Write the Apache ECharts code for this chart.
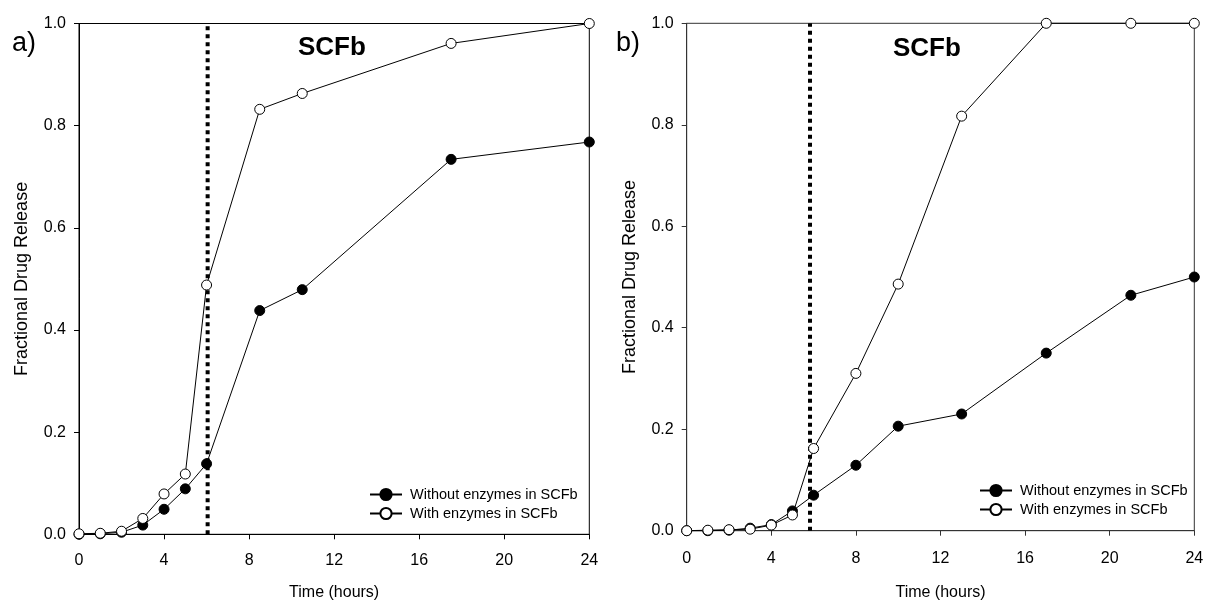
<!DOCTYPE html>
<html><head><meta charset="utf-8">
<script src="https://cdn.jsdelivr.net/npm/echarts@6/dist/echarts.min.js"></script>
<style>html,body{margin:0;padding:0;background:#fff}#c{width:1205px;height:602px}</style>
</head><body><div id="c"></div>
<script>
const xTicks = [0, 4, 8, 12, 16, 20, 24];
const yTicks = [0.0, 0.2, 0.4, 0.6, 0.8, 1.0];
const seriesNames = ['Without enzymes in SCFb', 'With enzymes in SCFb'];
const panelLabels = ['a)', 'b)'];
const panelTitle = 'SCFb';

const timeA = [0, 1, 2, 3, 4, 5, 6, 8.5, 10.5, 17.5, 24];
const withoutA = [0.000, 0.001, 0.004, 0.018, 0.049, 0.089, 0.138, 0.438, 0.479, 0.734, 0.768];
const withA = [0.001, 0.002, 0.006, 0.031, 0.079, 0.118, 0.488, 0.832, 0.863, 0.961, 1.000];
const switchA = 6.05;

const timeB = [0, 1, 2, 3, 4, 5, 6, 8, 10, 13, 17, 21, 24];
const withoutB = [0.000, 0.000, 0.001, 0.005, 0.012, 0.039, 0.070, 0.129, 0.206, 0.230, 0.350, 0.464, 0.500];
const withB = [0.000, 0.001, 0.002, 0.003, 0.011, 0.031, 0.162, 0.310, 0.486, 0.817, 1.000, 1.000, 1.000];
const switchB = 5.83;

const FONT = 'Liberation Sans, Arial, sans-serif';
const zip = (xs, ys) => xs.map((x, i) => [x, ys[i]]);

const grids = [
  {left: 79, top: 23.5, width: 510.3, height: 510.8, color: '#000', nameGap: 50, labelMargin: 18},
  {left: 686.7, top: 23.3, width: 507.6, height: 507.4, color: '#333', nameGap: 54, labelMargin: 20}
];

function xAxis(i) {
  return {
    type: 'value', gridIndex: i, min: xTicks[0], max: xTicks[xTicks.length - 1], interval: xTicks[1] - xTicks[0],
    name: 'Time (hours)', nameLocation: 'middle', nameGap: grids[i].nameGap,
    nameTextStyle: {fontFamily: FONT, fontSize: 16, color: '#000'},
    axisLine: {show: true, lineStyle: {color: grids[i].color, width: 1}},
    axisTick: {show: true, length: 5, inside: false, lineStyle: {color: grids[i].color}},
    axisLabel: {margin: grids[i].labelMargin, fontFamily: FONT, fontSize: 16, color: '#000',
      formatter: v => String(v)},
    splitLine: {show: false}
  };
}
function yAxis(i) {
  return {
    type: 'value', gridIndex: i, min: yTicks[0], max: yTicks[yTicks.length - 1], interval: 0.2,
    name: 'Fractional Drug Release', nameLocation: 'middle', nameGap: 48,
    nameTextStyle: {fontFamily: FONT, fontSize: 18, color: '#000'},
    axisLine: {show: true, lineStyle: {color: grids[i].color, width: 1}},
    axisTick: {show: true, length: 5, inside: false, lineStyle: {color: grids[i].color}},
    axisLabel: {margin: 13, fontFamily: FONT, fontSize: 16, color: '#000',
      formatter: v => v.toFixed(1)},
    splitLine: {show: false}
  };
}
function dataSeries(i, name, data, filled) {
  return {
    type: 'line', name: name, xAxisIndex: i, yAxisIndex: i, data: data,
    clip: false, symbol: 'circle', symbolSize: 10, z: filled ? 3 : 4,
    lineStyle: {color: '#000', width: 1},
    itemStyle: {color: filled ? '#000' : '#fff', borderColor: '#000', borderWidth: 1},
    emphasis: {disabled: true}, animation: false
  };
}
function switchSeries(i, x) {
  return {
    type: 'line', xAxisIndex: i, yAxisIndex: i, data: [[x, 0], [x, 1]],
    symbol: 'none', silent: true, z: 2, clip: false,
    lineStyle: {color: '#000', width: 4, type: [4, 4]},
    animation: false
  };
}
function legend(left, top) {
  return {
    data: seriesNames, orient: 'vertical', left: left, top: top,
    itemWidth: 32, itemHeight: 14, itemGap: 4, padding: 0,
    selectedMode: false,
    textStyle: {fontFamily: FONT, fontSize: 14.5, color: '#000', padding: [0, 0, 0, 3]}
  };
}

const option = {
  animation: false,
  grid: grids.map(g => ({left: g.left, top: g.top, width: g.width, height: g.height,
    show: true, borderColor: g.color, borderWidth: 1, containLabel: false,
    outerBoundsMode: 'none'})),
  xAxis: [xAxis(0), xAxis(1)],
  yAxis: [yAxis(0), yAxis(1)],
  legend: [legend(369, 487), legend(979, 483)],
  series: [
    switchSeries(0, switchA),
    dataSeries(0, seriesNames[0], zip(timeA, withoutA), true),
    dataSeries(0, seriesNames[1], zip(timeA, withA), false),
    switchSeries(1, switchB),
    dataSeries(1, seriesNames[0], zip(timeB, withoutB), true),
    dataSeries(1, seriesNames[1], zip(timeB, withB), false)
  ],
  graphic: [
    {type: 'text', left: 12, top: 30, style: {text: panelLabels[0], font: '27px ' + FONT, fill: '#000'}},
    {type: 'text', left: 616, top: 30, style: {text: panelLabels[1], font: '27px ' + FONT, fill: '#000'}},
    {type: 'text', left: 298, top: 35, style: {text: panelTitle, font: 'bold 26px ' + FONT, fill: '#000'}},
    {type: 'text', left: 893, top: 36, style: {text: panelTitle, font: 'bold 26px ' + FONT, fill: '#000'}}
  ]
};
const chart = echarts.init(document.getElementById('c'), null, {renderer: 'canvas'});
chart.setOption(option);
</script></body></html>
